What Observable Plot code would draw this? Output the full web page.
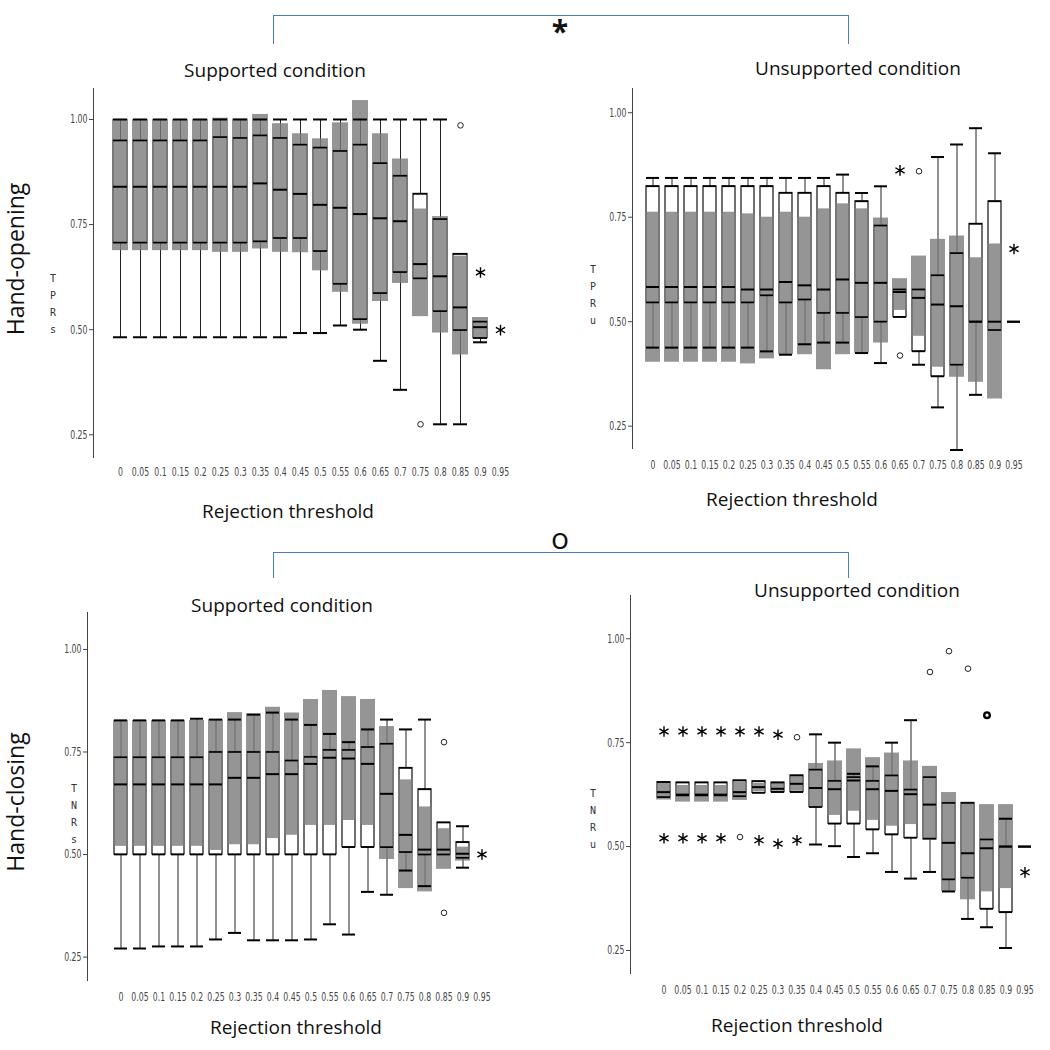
<!DOCTYPE html>
<html>
<head>
<meta charset="utf-8">
<script src="https://cdn.jsdelivr.net/npm/d3@7"></script>
<script src="https://cdn.jsdelivr.net/npm/@observablehq/plot@0.6"></script>
<style>
  html, body { margin: 0; padding: 0; background: #fff; }
  #page { position: relative; width: 1050px; height: 1050px; overflow: hidden; font-family: "Open Sans", sans-serif; color: #111; }
  .abs { position: absolute; }
  .lbl { position: absolute; transform: translate(-50%, -50%); white-space: nowrap; font-size: 19px; }
  .vlab { position: absolute; font-family: "DejaVu Sans Mono", monospace; font-size: 10px; line-height: 17px; text-align: center; color: #333; transform: translate(-50%, 0); }
  .bracket { position: absolute; border: 1.6px solid #4a7ebb; border-bottom: none; box-sizing: border-box; }
  .rot { position: absolute; writing-mode: vertical-rl; transform: translate(0, -50%) rotate(180deg); white-space: nowrap; font-size: 23px; line-height: 24px; }
</style>
</head>
<body>
<div id="page"></div>
<script>
// ---------- categories ----------
const thresholds = ["0","0.05","0.1","0.15","0.2","0.25","0.3","0.35","0.4","0.45","0.5","0.55","0.6","0.65","0.7","0.75","0.8","0.85","0.9","0.95"];
const yTicks = [0.25, 0.5, 0.75, 1.0];

// ---------- Hand-opening, supported (TPRs) ----------
const tlLo  = [0.482,0.482,0.482,0.482,0.482,0.482,0.482,0.482,0.482,0.492,0.492,0.510,0.500,0.426,0.357,0.622,0.275,0.275,0.470,null];
const tlQ1  = [0.707,0.707,0.707,0.707,0.707,0.707,0.707,0.710,0.718,0.718,0.687,0.609,0.525,0.587,0.637,0.622,0.544,0.499,0.480,null];
const tlMed = [0.840,0.840,0.840,0.840,0.840,0.840,0.840,0.848,0.833,0.823,0.797,0.790,0.775,0.765,0.758,0.656,0.627,0.553,0.506,null];
const tlQ3  = [0.950,0.950,0.950,0.950,0.950,0.958,0.956,0.962,0.956,0.940,0.933,0.925,0.940,0.896,0.866,0.823,0.763,0.680,0.519,null];
const tlHi  = [1.000,1.000,1.000,1.000,1.000,1.000,1.000,1.000,1.000,1.000,1.000,1.000,1.000,1.000,1.000,1.000,1.000,0.680,0.519,null];
const tlGLo = [0.688,0.688,0.688,0.688,0.688,0.684,0.684,0.692,0.684,0.683,0.640,0.589,0.513,0.567,0.610,0.531,0.492,0.440,0.480,null];
const tlGHi = [1.000,1.000,1.000,1.000,1.000,1.003,1.001,1.012,0.990,0.966,0.954,0.992,1.045,0.966,0.906,0.787,0.769,0.675,0.529,null];
const tlOutX = ["0.75","0.85","0.9","0.95"];
const tlOutY = [0.275, 0.986, 0.636, 0.499];
const tlOutK = ["o","o","*","*"];

// ---------- Hand-opening, unsupported (TPRu) ----------
const trLo  = [0.438,0.438,0.438,0.438,0.438,0.438,0.429,0.421,0.446,0.450,0.450,0.425,0.401,0.511,0.397,0.295,0.193,0.325,0.480,0.500];
const trQ1  = [0.546,0.546,0.546,0.546,0.546,0.546,0.563,0.546,0.553,0.521,0.521,0.511,0.500,0.511,0.429,0.369,0.397,0.500,0.480,0.500];
const trMed = [0.583,0.583,0.583,0.583,0.583,0.577,0.577,0.595,0.587,0.577,0.601,0.593,0.593,0.571,0.557,0.541,0.537,0.500,0.500,0.500];
const trQ3  = [0.824,0.824,0.824,0.824,0.824,0.824,0.824,0.808,0.808,0.824,0.808,0.788,0.730,0.577,0.577,0.611,0.664,0.734,0.788,0.500];
const trHi  = [0.844,0.844,0.844,0.844,0.844,0.844,0.844,0.844,0.844,0.844,0.852,0.808,0.824,0.577,0.577,0.894,0.924,0.963,0.903,0.500];
const trGLo = [0.403,0.403,0.403,0.403,0.403,0.399,0.411,0.421,0.421,0.385,0.421,0.425,0.449,0.527,0.465,0.391,0.367,0.355,0.315,null];
const trGHi = [0.762,0.762,0.762,0.762,0.762,0.758,0.750,0.762,0.750,0.770,0.782,0.770,0.748,0.603,0.657,0.697,0.705,0.653,0.686,null];
const trOutX = ["0.65","0.65","0.7","0.95"];
const trOutY = [0.862, 0.419, 0.860, 0.674];
const trOutK = ["*","o","o","*"];

// ---------- Hand-closing, supported (TNRs) ----------
const blLo  = [0.271,0.271,0.276,0.276,0.276,0.293,0.309,0.291,0.291,0.291,0.293,0.330,0.305,0.409,0.402,0.461,0.423,0.500,0.468,null];
const blQ1  = [0.500,0.500,0.500,0.500,0.500,0.500,0.500,0.500,0.500,0.500,0.500,0.500,0.518,0.518,0.518,0.506,0.500,0.500,0.492,null];
const blMed = [0.671,0.671,0.671,0.671,0.671,0.671,0.687,0.687,0.696,0.696,0.721,0.736,0.734,0.721,0.648,0.548,0.512,0.512,0.502,null];
const blQ3  = [0.737,0.737,0.737,0.737,0.737,0.750,0.750,0.750,0.750,0.729,0.738,0.755,0.755,0.762,0.770,0.711,0.659,0.578,0.530,null];
const blHi  = [0.827,0.827,0.827,0.827,0.831,0.829,0.829,0.841,0.846,0.829,0.816,0.794,0.774,0.805,0.829,0.805,0.829,0.578,0.569,null];
const blGLo = [0.520,0.520,0.520,0.520,0.520,0.510,0.524,0.524,0.539,0.547,0.571,0.571,0.583,0.571,0.488,0.417,0.409,0.464,0.484,null];
const blGHi = [0.827,0.827,0.827,0.827,0.827,0.829,0.846,0.843,0.859,0.845,0.878,0.900,0.885,0.878,0.812,0.682,0.616,0.563,0.518,null];
const blOutX = ["0.85","0.85","0.95"];
const blOutY = [0.774, 0.358, 0.500];
const blOutK = ["o","o","*"];

// ---------- Hand-closing, unsupported (TNRu) ----------
const brLo  = [0.619,0.623,0.623,0.623,0.621,0.629,0.631,0.631,0.505,0.501,0.475,0.484,0.439,0.423,0.439,0.392,0.326,0.306,0.256,0.500];
const brQ1  = [0.619,0.623,0.623,0.623,0.621,0.629,0.631,0.631,0.595,0.555,0.555,0.541,0.529,0.521,0.519,0.421,0.425,0.350,0.342,0.500];
const brMed = [0.631,0.625,0.625,0.625,0.631,0.643,0.639,0.651,0.641,0.638,0.659,0.638,0.634,0.626,0.601,0.509,0.484,0.496,0.500,0.500];
const brQ3  = [0.655,0.654,0.654,0.654,0.659,0.657,0.654,0.671,0.685,0.658,0.667,0.658,0.671,0.637,0.667,0.605,0.605,0.517,0.500,0.500];
const brHi  = [0.655,0.654,0.654,0.654,0.659,0.657,0.654,0.671,0.770,0.750,0.675,0.693,0.750,0.804,0.667,0.605,0.605,0.517,0.567,0.500];
const brGLo = [0.612,0.607,0.607,0.607,0.611,0.632,0.633,0.633,0.595,0.575,0.585,0.563,0.549,0.553,0.515,0.392,0.372,0.391,0.399,null];
const brGHi = [0.652,0.647,0.647,0.647,0.655,0.652,0.652,0.668,0.700,0.706,0.735,0.714,0.725,0.706,0.693,0.630,0.605,0.601,0.601,null];
const brOutX = ["0","0.05","0.1","0.15","0.2","0.25","0.3","0.35","0","0.05","0.1","0.15","0.2","0.25","0.3","0.35","0.7","0.75","0.8","0.85","0.95"];
const brOutY = [0.777,0.777,0.777,0.777,0.777,0.777,0.769,0.763,0.520,0.520,0.520,0.520,0.523,0.515,0.507,0.515,0.920,0.970,0.928,0.816,0.438];
const brOutK = ["*","*","*","*","*","*","*","o","*","*","*","*","o","*","*","*","o","o","o","O","*"];

// ---------- panel builder ----------
const tickFont = "'Liberation Sans Narrow','DejaVu Sans Condensed','DejaVu Sans',sans-serif";

function panel(cfg) {
  const rows = thresholds.map((t, i) => ({
    t, lo: cfg.lo[i], q1: cfg.q1[i], med: cfg.med[i], q3: cfg.q3[i], hi: cfg.hi[i], glo: cfg.glo[i], ghi: cfg.ghi[i]
  })).filter(d => d.med != null);
  const gray = rows.filter(d => d.glo != null);
  const outs = cfg.outX.map((t, i) => ({t, v: cfg.outY[i], k: cfg.outK[i]}));
  const svg = Plot.plot({
    width: cfg.width, height: cfg.height,
    marginLeft: cfg.marginLeft, marginRight: 0, marginTop: cfg.marginTop, marginBottom: cfg.marginBottom,
    style: {fontFamily: tickFont, fontSize: "12px", color: "#444", background: "transparent", overflow: "visible"},
    x: {type: "band", domain: thresholds, range: cfg.xRange, paddingInner: 0.3, paddingOuter: 0.15,
        tickSize: 0, tickPadding: cfg.xPad, label: null},
    y: {domain: cfg.yDomain, ticks: yTicks, tickFormat: ".2f", tickSize: 4, tickPadding: 2, line: true, label: null},
    marks: [
      Plot.ruleX(rows, {x: "t", y1: "lo", y2: "hi", stroke: "#222", strokeWidth: 1}),
      Plot.barY(rows, {x: "t", y1: "q1", y2: "q3", fill: "white", stroke: "#111", strokeWidth: 1.2}),
      Plot.barY(gray, {x: "t", y1: "glo", y2: "ghi", fill: "#7a7a7a", fillOpacity: 0.8, insetLeft: -1, insetRight: -1}),
      Plot.tickY(rows, {x: "t", y: "q1", stroke: "#000", strokeWidth: 1.6}),
      Plot.tickY(rows, {x: "t", y: "q3", stroke: "#000", strokeWidth: 1.6}),
      Plot.tickY(rows, {x: "t", y: "med", stroke: "#000", strokeWidth: 2}),
      Plot.tickY(rows.filter(d => d.hi > d.q3), {x: "t", y: "hi", stroke: "#000", strokeWidth: 2}),
      Plot.tickY(rows.filter(d => d.lo < d.q1), {x: "t", y: "lo", stroke: "#000", strokeWidth: 2}),
      Plot.dot(outs.filter(d => d.k === "o"), {x: "t", y: "v", r: 2.8, stroke: "#222", strokeWidth: 1, fill: "none"}),
      Plot.dot(outs.filter(d => d.k === "O"), {x: "t", y: "v", r: 2.8, stroke: "#000", strokeWidth: 2.4, fill: "none"}),
      Plot.dot(outs.filter(d => d.k === "*"), {x: "t", y: "v", r: 5, symbol: "asterisk", stroke: "#000", strokeWidth: 1.4})
    ]
  });
  // condensed, taller tick labels like the original bitmap font
  svg.querySelectorAll('g[aria-label^="x-axis"] text, g[aria-label^="y-axis"] text').forEach(t => {
    const tr = t.getAttribute("transform") || "";
    t.setAttribute("transform", tr + " scale(0.72,1)");
  });
  return svg;
}

const page = document.getElementById("page");
function place(node, left, top) {
  const wrap = document.createElement("div");
  wrap.className = "abs";
  wrap.style.left = left + "px";
  wrap.style.top = top + "px";
  wrap.appendChild(node);
  page.appendChild(wrap);
}
function label(html, x, y, cls, extra) {
  const d = document.createElement("div");
  d.className = cls;
  d.style.left = x + "px";
  d.style.top = y + "px";
  if (extra) Object.assign(d.style, extra);
  d.innerHTML = html;
  page.appendChild(d);
}

place(panel({lo: tlLo, q1: tlQ1, med: tlMed, q3: tlQ3, hi: tlHi, glo: tlGLo, ghi: tlGHi, outX: tlOutX, outY: tlOutY, outK: tlOutK,
  width: 525, height: 400, marginLeft: 93, marginTop: 8, marginBottom: 23, yDomain: [0.196, 1.0737], xRange: [110, 510], xPad: 10}), 0, 80);
place(panel({lo: trLo, q1: trQ1, med: trMed, q3: trQ3, hi: trHi, glo: trGLo, ghi: trGHi, outX: trOutX, outY: trOutY, outK: trOutK,
  width: 525, height: 400, marginLeft: 107, marginTop: 8, marginBottom: 32, yDomain: [0.1966, 1.058], xRange: [113.3, 502.85], xPad: 12}), 525, 80);
place(panel({lo: blLo, q1: blQ1, med: blMed, q3: blQ3, hi: blHi, glo: blGLo, ghi: blGHi, outX: blOutX, outY: blOutY, outK: blOutK,
  width: 525, height: 420, marginLeft: 87, marginTop: 12, marginBottom: 40, yDomain: [0.193, 1.090], xRange: [103.1, 499.1], xPad: 12}), 0, 600);
place(panel({lo: brLo, q1: brQ1, med: brMed, q3: brQ3, hi: brHi, glo: brGLo, ghi: brGHi, outX: brOutX, outY: brOutY, outK: brOutK,
  width: 525, height: 420, marginLeft: 105, marginTop: 5, marginBottom: 37, yDomain: [0.1947, 1.104], xRange: [120.8, 516.8], xPad: 12}), 525, 590);

// brackets
const b1 = document.createElement("div"); b1.className = "bracket";
Object.assign(b1.style, {left: "273px", top: "15px", width: "576px", height: "29px"}); page.appendChild(b1);
const b2 = document.createElement("div"); b2.className = "bracket";
Object.assign(b2.style, {left: "273px", top: "552px", width: "576px", height: "26px"}); page.appendChild(b2);
label("*", 560, 30, "lbl", {fontSize: "30px", fontWeight: "bold"});
label("o", 560, 537, "lbl", {fontSize: "30px"});

// titles
label("Supported condition", 275, 70, "lbl");
label("Unsupported condition", 858, 68, "lbl");
label("Supported condition", 282, 605, "lbl");
label("Unsupported condition", 857, 590, "lbl");
label("Rejection threshold", 288, 511, "lbl");
label("Rejection threshold", 792, 499, "lbl");
label("Rejection threshold", 296, 1027, "lbl");
label("Rejection threshold", 797, 1025, "lbl");
label("Hand-opening", 3, 259, "rot");
label("Hand-closing", 3, 802, "rot");

// stacked y labels
label("T<br>P<br>R<br>s", 53, 270, "vlab");
label("T<br>P<br>R<br>u", 593, 261, "vlab");
label("T<br>N<br>R<br>s", 74, 780, "vlab");
label("T<br>N<br>R<br>u", 593, 785, "vlab");
</script>
</body>
</html>
